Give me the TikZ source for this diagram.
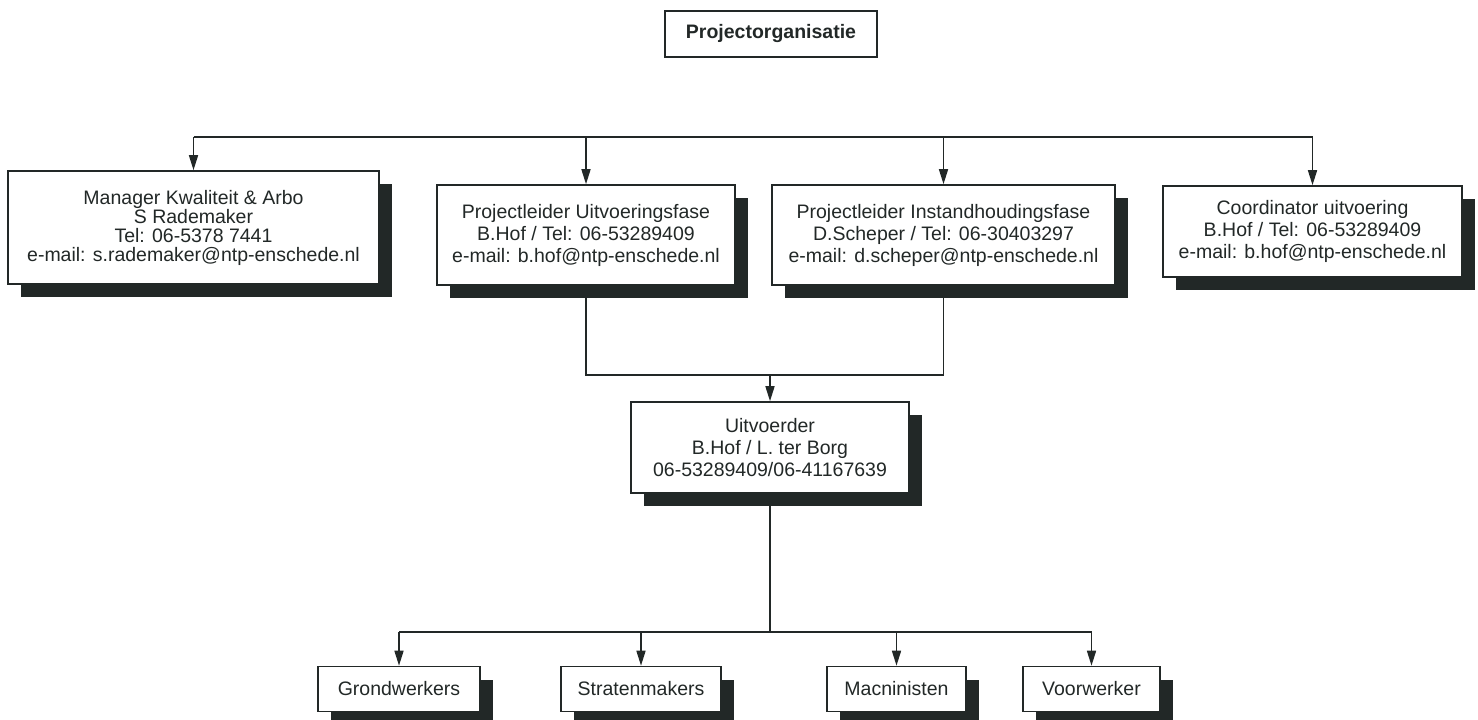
\documentclass[tikz,border=0pt]{standalone}
\usepackage{fontspec}
\setmainfont{Liberation Sans}
\usetikzlibrary{arrows.meta,shadows}
\definecolor{ink}{RGB}{34,40,39}

\begin{document}
\begin{tikzpicture}[x=1pt,y=-1pt,>={Triangle[length=15pt,width=9pt]},
    every node/.style={font=\fontsize{19.5}{22}\selectfont,text=ink},
    box/.style={draw=ink,line width=1.6pt,fill=white,align=center,inner sep=0pt,
        drop shadow={shadow xshift=13pt,shadow yshift=-13pt,opacity=1,fill=ink}},
    link/.style={line width=1.6pt,ink}]
    \useasboundingbox (0,0) rectangle (1478,720);

    % title
    \node(title)[draw=ink,line width=1.6pt,minimum width=212pt,minimum height=46pt,
        font=\fontsize{19.5}{22}\selectfont\bfseries]at (771,34){Projectorganisatie};

    % top row
    \node(mgr)[box,minimum width=371pt,minimum height=113pt,font=\fontsize{19.5}{19}\selectfont]at (193.5,227.5)
        {Manager Kwaliteit \& Arbo\\S Rademaker\\Tel: 06-5378 7441\\e-mail: s.rademaker@ntp-enschede.nl};
    \node(pu)[box,minimum width=298pt,minimum height=100pt]at (586,235)
        {Projectleider Uitvoeringsfase\\B.Hof / Tel: 06-53289409\\e-mail: b.hof@ntp-enschede.nl};
    \node(pi)[box,minimum width=343pt,minimum height=100pt]at (943.5,235)
        {Projectleider Instandhoudingsfase\\D.Scheper / Tel: 06-30403297\\e-mail: d.scheper@ntp-enschede.nl};
    \node(co)[box,minimum width=299pt,minimum height=91pt]at (1312.5,231.5)
        {Coordinator uitvoering\\B.Hof / Tel: 06-53289409\\e-mail: b.hof@ntp-enschede.nl};

    % uitvoerder
    \node(uit)[box,minimum width=278pt,minimum height=91pt]at (770,447.5)
        {Uitvoerder\\B.Hof / L. ter Borg\\06-53289409/06-41167639};

    % bus lines
    \coordinate(bus)at (0,137);
    \coordinate(join)at (770,375);
    \coordinate(split)at (770,632);

    \draw[link](mgr.north|-bus)--(co.north|-bus);
    \foreach \n in {mgr,pu,pi,co}
        \draw[->,link](\n.north|-bus)--(\n.north);

    \draw[link](pu.south)|-(join)-|(pi.south);
    \draw[->,link](join)--(uit.north);
    \draw[link](uit.south)--(split);

    % crews
    \foreach \n/\x/\w/\t in {gr/399/162/Grondwerkers,st/641/160/Stratenmakers,ma/896.5/139/Macninisten,vo/1091.5/137/Voorwerker}
    {\node(\n)[box,minimum width=\w pt,minimum height=45pt]at (\x,689){\t};
    \draw[->,link](\n.north|-split)--(\n.north);}

    \draw[link](gr.north|-split)--(vo.north|-split);
\end{tikzpicture}
\end{document}
